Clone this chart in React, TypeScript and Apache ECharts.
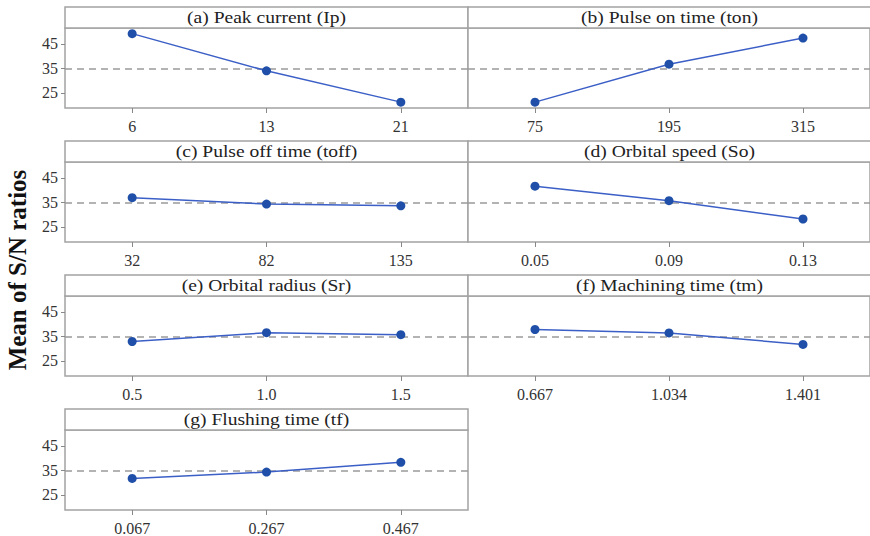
import React, { useEffect, useRef } from "react";
import * as echarts from "echarts";

const panelTitles = [
  "(a) Peak current (Ip)",
  "(b) Pulse on time (ton)",
  "(c) Pulse off time (toff)",
  "(d) Orbital speed (So)",
  "(e) Orbital radius (Sr)",
  "(f) Machining time (tm)",
  "(g) Flushing time (tf)",
];

const levelsIp = ["6", "13", "21"];
const levelsTon = ["75", "195", "315"];
const levelsToff = ["32", "82", "135"];
const levelsSo = ["0.05", "0.09", "0.13"];
const levelsSr = ["0.5", "1.0", "1.5"];
const levelsTm = ["0.667", "1.034", "1.401"];
const levelsTf = ["0.067", "0.267", "0.467"];

const snIp = [49.2, 34.0, 21.2];
const snTon = [21.2, 36.7, 47.4];
const snToff = [36.9, 34.3, 33.6];
const snSo = [41.6, 35.7, 28.2];
const snSr = [32.9, 36.5, 35.7];
const snTm = [37.8, 36.4, 31.7];
const snTf = [31.7, 34.3, 38.3];

const grandMean = 35.0;
const yTicks = [25, 35, 45];
const yLabel = "Mean of S/N ratios";

const levels = [levelsIp, levelsTon, levelsToff, levelsSo, levelsSr, levelsTm, levelsTf];
const values = [snIp, snTon, snToff, snSo, snSr, snTm, snTf];

export default function App() {
  const ref = useRef<HTMLDivElement>(null);

  useEffect(() => {
    if (!ref.current) return;
    document.body.style.margin = "0";
    const chart = echarts.init(ref.current, undefined, { renderer: "svg" });

    const FONT = "Liberation Serif";
    const colLeft = [65, 468];
    const plotW = 403;
    const plotH = 80;
    const rowTop0 = 28;
    const rowPitch = 134;
    const stripH = 21;
    const borderColor = "#a3a3a3";

    const grids: any[] = [];
    const xAxes: any[] = [];
    const yAxes: any[] = [];
    const series: any[] = [];
    const graphics: any[] = [];

    panelTitles.forEach((title, i) => {
      const col = i % 2;
      const row = Math.floor(i / 2);
      const left = colLeft[col];
      const top = rowTop0 + row * rowPitch;
      grids.push({
        left,
        top,
        width: plotW,
        height: plotH,
        show: true,
        borderColor,
        borderWidth: 1.5,
        backgroundColor: "#fff",
        containLabel: false,
      });
      xAxes.push({
        type: "category",
        gridIndex: i,
        data: levels[i],
        boundaryGap: true,
        axisLine: { show: false },
        axisTick: {
          show: true,
          alignWithLabel: true,
          length: 5,
          lineStyle: { color: "#888", width: 1 },
        },
        axisLabel: {
          fontFamily: FONT,
          fontSize: 16,
          color: "#333",
          margin: 10,
        },
        splitLine: { show: false },
      });
      yAxes.push({
        type: "value",
        gridIndex: i,
        min: 18.8,
        max: 51.5,
        axisLine: { show: false },
        axisTick: {
          show: col === 0,
          length: 4,
          customValues: yTicks,
          lineStyle: { color: "#888", width: 1 },
        },
        axisLabel: {
          show: col === 0,
          customValues: yTicks,
          fontFamily: FONT,
          fontSize: 16,
          color: "#333",
          margin: 7,
        },
        splitLine: { show: false },
      });
      series.push({
        type: "line",
        xAxisIndex: i,
        yAxisIndex: i,
        data: values[i],
        symbol: "circle",
        symbolSize: 9,
        lineStyle: { color: "#3b5fc6", width: 1.5 },
        itemStyle: { color: "#1f4fa8" },
        z: 5,
        markLine: {
          silent: true,
          symbol: "none",
          label: { show: false },
          lineStyle: { color: "#9a9a9a", width: 1.5, type: [7, 5] },
          data: [{ yAxis: grandMean }],
          z: 3,
        },
      });
      graphics.push({
        type: "rect",
        shape: { x: left, y: top - stripH, width: plotW, height: stripH },
        style: { fill: "#fff", stroke: borderColor, lineWidth: 1.5 },
        z: 10,
      });
      graphics.push({
        type: "text",
        x: left + plotW / 2,
        y: top - stripH / 2,
        scaleX: 1.15,
        style: {
          text: title,
          fontFamily: FONT,
          fontSize: 17,
          fill: "#222",
          align: "center",
          verticalAlign: "middle",
        },
        z: 11,
      });
    });

    graphics.push({
      type: "text",
      x: 17,
      y: 270,
      rotation: Math.PI / 2,
      style: {
        text: yLabel,
        fontFamily: FONT,
        fontSize: 25,
        fontWeight: "bold",
        fill: "#111",
        align: "center",
        verticalAlign: "middle",
      },
      z: 11,
    });

    chart.setOption({
      animation: false,
      backgroundColor: "#fff",
      grid: grids,
      xAxis: xAxes,
      yAxis: yAxes,
      series,
      graphic: { elements: graphics },
    });

    return () => chart.dispose();
  }, []);

  return (
    <div
      ref={ref}
      style={{ position: "absolute", left: 0, top: 0, width: 870, height: 536 }}
    />
  );
}
